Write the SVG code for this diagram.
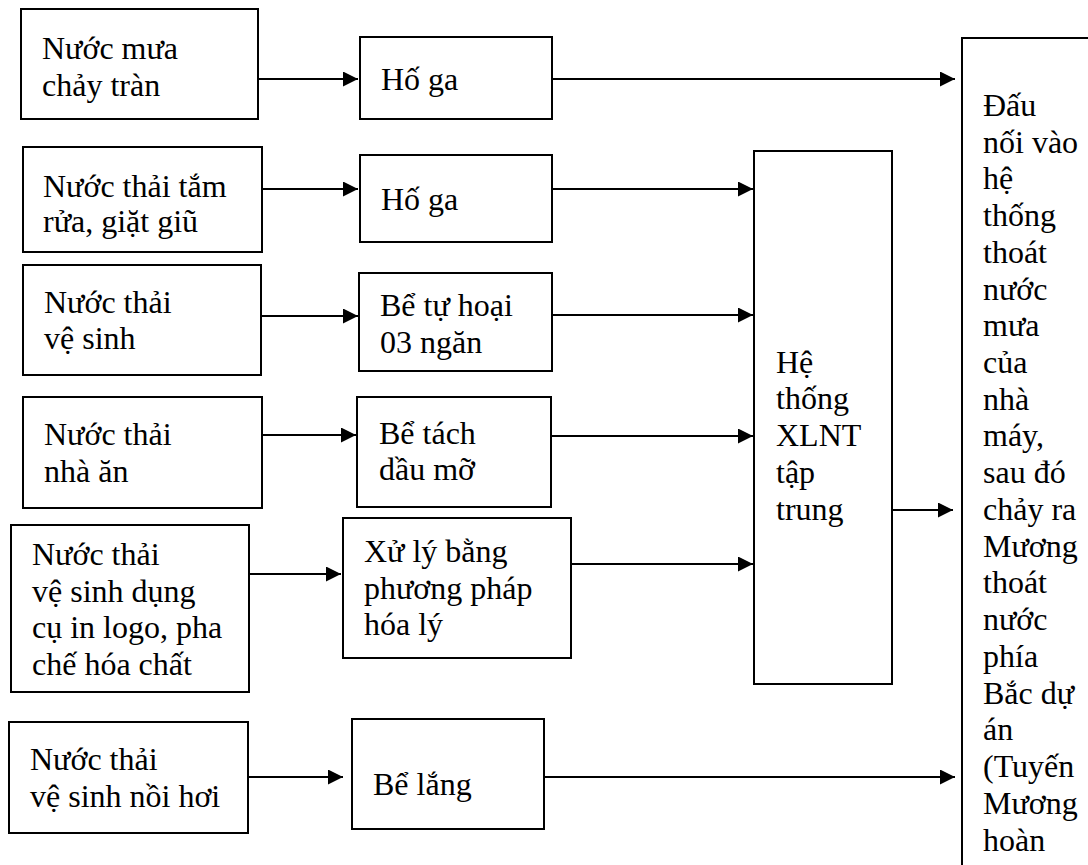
<svg xmlns="http://www.w3.org/2000/svg" width="1088" height="865" viewBox="0 0 1088 865">
<style>
rect.b{fill:#fff;stroke:#000;stroke-width:2}
text{font-family:"Liberation Serif","Times New Roman",serif;font-size:32px;fill:#000}
.c line{stroke:#000;stroke-width:2;marker-end:url(#ah)}
</style>
<defs>
<marker id="ah" viewBox="0 0 15 15" refX="15" refY="7.5" markerWidth="15" markerHeight="15" markerUnits="userSpaceOnUse" orient="auto">
<path d="M0,0 L15,7.5 L0,15 z" fill="#000"/>
</marker>
</defs>
<rect width="1088" height="865" fill="#fff"/>
<g class="c" id="connectors">
<line x1="258" y1="79" x2="358" y2="79"/>
<line x1="552" y1="79" x2="955" y2="79"/>
<line x1="262" y1="189" x2="358" y2="189"/>
<line x1="552" y1="189" x2="753" y2="189"/>
<line x1="261" y1="316" x2="358" y2="316"/>
<line x1="552" y1="315" x2="753" y2="315"/>
<line x1="262" y1="435" x2="356" y2="435"/>
<line x1="551" y1="436" x2="753" y2="436"/>
<line x1="249" y1="574" x2="341" y2="574"/>
<line x1="571" y1="564" x2="753" y2="564"/>
<line x1="248" y1="777" x2="343" y2="777"/>
<line x1="544" y1="777" x2="955" y2="777"/>
<line x1="892" y1="510" x2="953" y2="510"/>
</g>
<g id="n1"><rect class="b" x="21" y="9" width="237" height="110"/><text x="42" y="59">Nước mưa</text><text x="42" y="96">chảy tràn</text></g>
<g id="n2"><rect class="b" x="360" y="37" width="192" height="82"/><text x="381" y="90">Hố ga</text></g>
<g id="n3"><rect class="b" x="23" y="147" width="239" height="105"/><text x="43" y="197">Nước thải tắm</text><text x="43" y="232">rửa, giặt giũ</text></g>
<g id="n4"><rect class="b" x="360" y="155" width="192" height="87"/><text x="381" y="210">Hố ga</text></g>
<g id="n5"><rect class="b" x="23" y="265" width="238" height="110"/><text x="44" y="313">Nước thải</text><text x="44" y="349">vệ sinh</text></g>
<g id="n6"><rect class="b" x="359" y="273" width="193" height="98"/><text x="380" y="316">Bể tự hoại</text><text x="380" y="353">03 ngăn</text></g>
<g id="n7"><rect class="b" x="23" y="397" width="239" height="111"/><text x="44" y="445">Nước thải</text><text x="44" y="482">nhà ăn</text></g>
<g id="n8"><rect class="b" x="357" y="397" width="194" height="110"/><text x="379" y="444">Bể tách</text><text x="379" y="480">dầu mỡ</text></g>
<g id="n9"><rect class="b" x="11" y="525" width="238" height="167"/><text x="32" y="565">Nước thải</text><text x="32" y="602">vệ sinh dụng</text><text x="32" y="638">cụ in logo, pha</text><text x="32" y="675">chế hóa chất</text></g>
<g id="n10"><rect class="b" x="343" y="518" width="228" height="140"/><text x="364" y="562">Xử lý bằng</text><text x="364" y="599">phương pháp</text><text x="364" y="635">hóa lý</text></g>
<g id="n11"><rect class="b" x="9" y="722" width="239" height="111"/><text x="30" y="770">Nước thải</text><text x="30" y="807">vệ sinh nồi hơi</text></g>
<g id="n12"><rect class="b" x="352" y="719" width="192" height="110"/><text x="373" y="795">Bể lắng</text></g>
<g id="n13"><rect class="b" x="754" y="151" width="138" height="533"/><text x="776" y="373">Hệ</text><text x="776" y="409">thống</text><text x="776" y="446">XLNT</text><text x="776" y="483">tập</text><text x="776" y="520">trung</text></g>
<g id="n14"><rect class="b" x="962" y="38" width="200" height="900"/>
<text x="983" y="116">Đấu</text>
<text x="983" y="153">nối vào</text>
<text x="983" y="189">hệ</text>
<text x="983" y="226">thống</text>
<text x="983" y="263">thoát</text>
<text x="983" y="300">nước</text>
<text x="983" y="336">mưa</text>
<text x="983" y="373">của</text>
<text x="983" y="410">nhà</text>
<text x="983" y="446">máy,</text>
<text x="983" y="483">sau đó</text>
<text x="983" y="520">chảy ra</text>
<text x="983" y="557">Mương</text>
<text x="983" y="593">thoát</text>
<text x="983" y="630">nước</text>
<text x="983" y="667">phía</text>
<text x="983" y="704">Bắc dự</text>
<text x="983" y="740">án</text>
<text x="983" y="777">(Tuyến</text>
<text x="983" y="814">Mương</text>
<text x="983" y="851">hoàn</text>
</g>
</svg>
